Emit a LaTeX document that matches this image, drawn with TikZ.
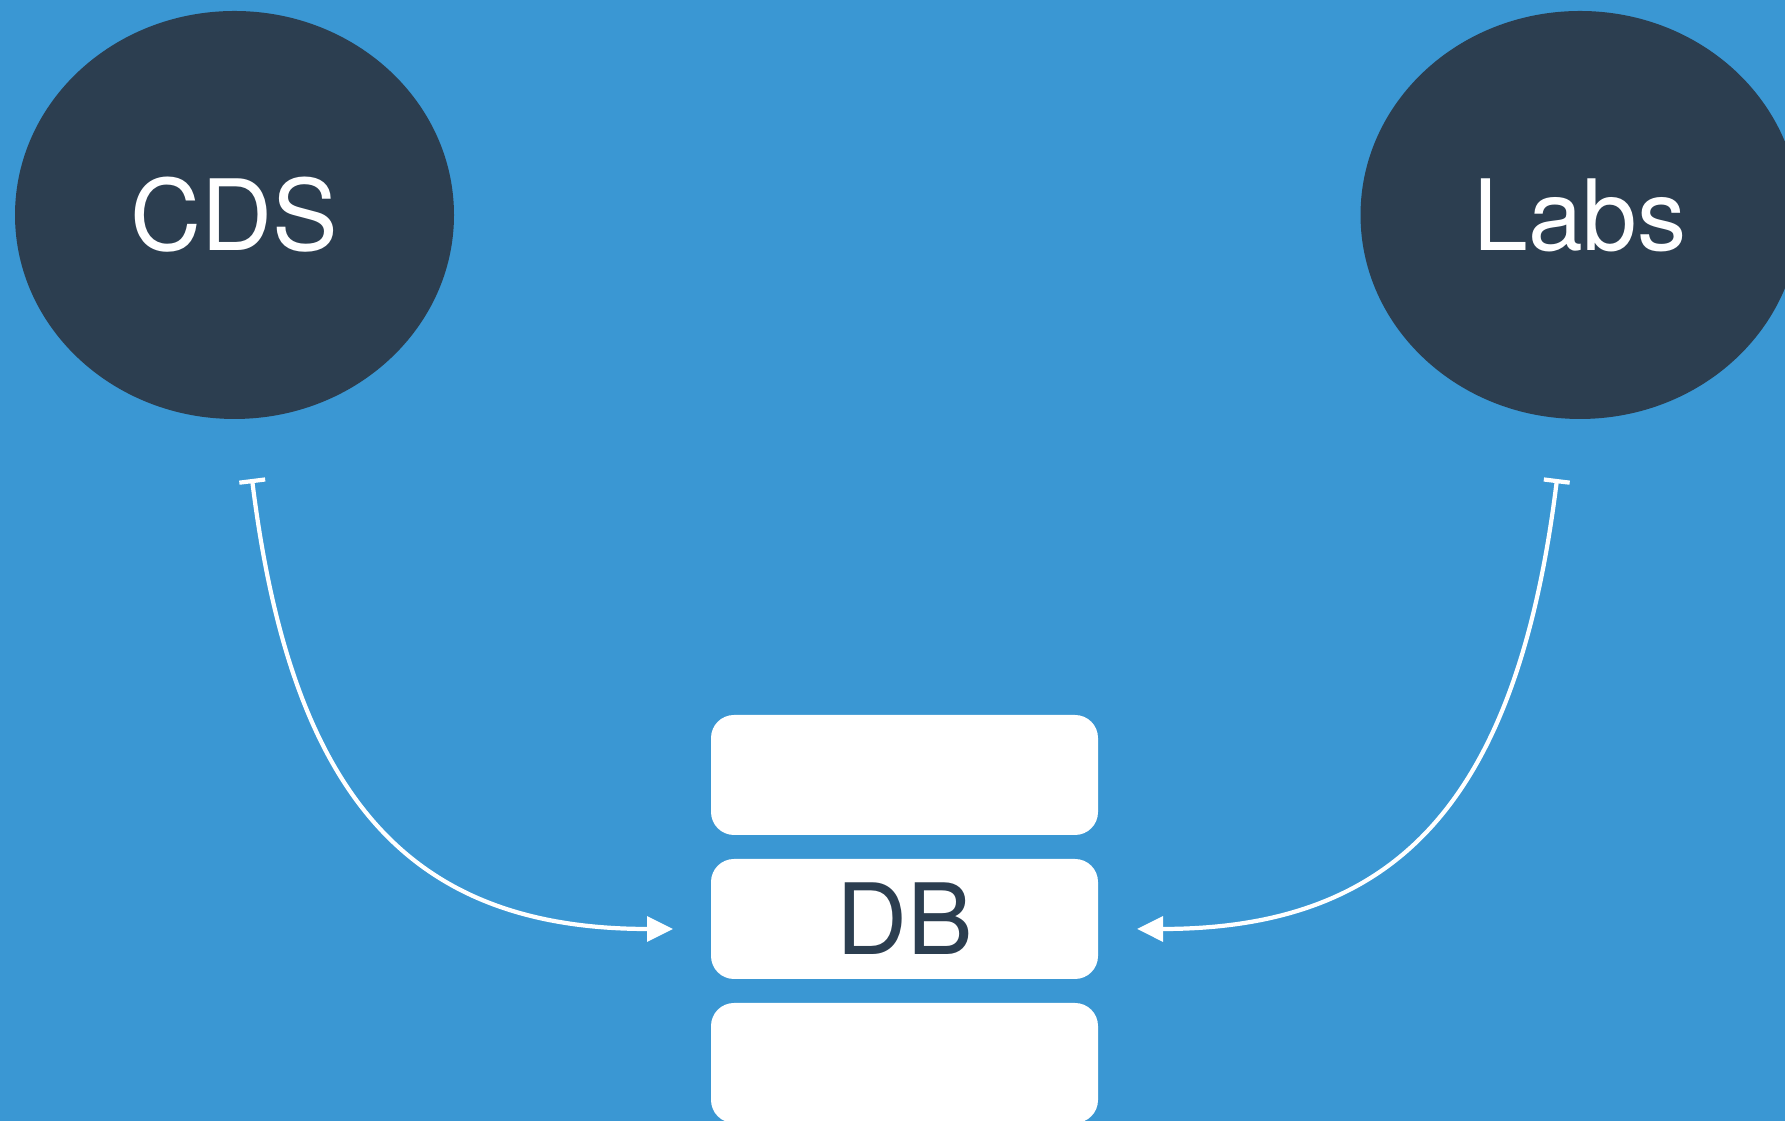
\documentclass[tikz,border=0pt]{standalone}
\usepackage{fontspec}
\setmainfont{TeX Gyre Heros}
\usetikzlibrary{shapes.geometric,arrows.meta}

\definecolor{bgblue}{RGB}{58,151,211}
\definecolor{navy}{RGB}{44,62,80}

\tikzset{
    service/.style={ellipse, fill=navy, text=white, inner sep=0pt,
        minimum width=4.39cm, minimum height=4.08cm, font=\fontsize{28}{32}\selectfont},
    dbslot/.style={rectangle, rounded corners=0.23cm, fill=white, text=navy, inner sep=0pt,
        minimum width=3.87cm, minimum height=1.2cm, font=\fontsize{28}{32}\selectfont},
    link/.style={{Bar[width=7.4pt,line width=1.2pt]}-{Triangle[length=7.4pt,width=7pt]}, white, line width=1.2pt}
}

\begin{document}
\begin{tikzpicture}
        % background
        \useasboundingbox (0,0) rectangle (17.85,11.21);
        \fill[bgblue] (0,0) rectangle (17.85,11.21);

        % services
        \node[service] (cds) at (2.345,9.06) {CDS};
        \node[service] (labs) at (15.80,9.06) {Labs};

        % database
        \node[dbslot] (dbtop) at (9.045,3.46) {};
        \node[dbslot] (db) at (9.045,2.02) {DB};
        \node[dbslot] (dbbottom) at (9.045,0.58) {};

        % link ends
        \coordinate (cdsport) at (2.52,6.42);
        \coordinate (labsport) at (15.57,6.42);
        \coordinate (dbleft) at (6.73,1.92);
        \coordinate (dbright) at (11.37,1.92);

        % links
        \draw[link] (cdsport) .. controls (2.92,3.19) and (4.13,1.92) .. (dbleft);
        \draw[link] (labsport) .. controls (15.17,3.19) and (13.97,1.92) .. (dbright);
\end{tikzpicture}
\end{document}
